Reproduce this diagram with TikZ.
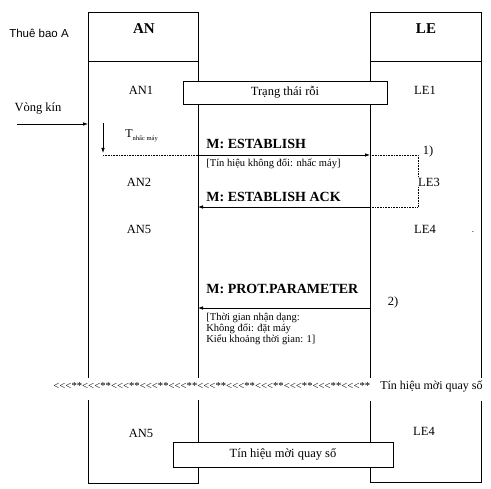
\documentclass[tikz,border=0pt]{standalone}
\usepackage{fontspec}
\setmainfont{Liberation Serif}
\newfontfamily\sansf{Liberation Sans}
\newfontfamily\rowfont{Liberation Serif}[Ligatures=TeXOff]
\usetikzlibrary{arrows.meta}
\begin{document}
\begin{tikzpicture}[x=1pt,y=-1pt, line width=0.8pt,
  lbl/.style={font=\fontsize{12.5}{14}\selectfont, inner sep=0},
  hdr/.style={font=\fontsize{15}{17}\selectfont\bfseries, inner sep=0},
  msg/.style={font=\fontsize{14}{16}\selectfont\bfseries, anchor=west, inner sep=0},
  note/.style={font=\fontsize{10.5}{11}\selectfont, anchor=north west, align=left, inner sep=0},
  statebox/.style={draw, fill=white, inner sep=0, font=\fontsize{12.5}{14}\selectfont},
  arr/.style={-{Latex[length=5pt,width=3.6pt]}},
  dotl/.style={densely dotted, line width=0.6pt}]
\useasboundingbox (0,0) rectangle (491,489);

% lifelines AN
\draw (88,12) rectangle (198,61);
\draw (88,61) -- (88,378);
\draw (198,61) -- (198,378);
\draw (88,400) -- (88,483) -- (198,483) -- (198,400);
% lifelines LE
\draw (370,12) rectangle (481,61);
\draw (370,61) -- (370,378);
\draw (481,61) -- (481,378);
\draw (370,401) -- (370,482) -- (481,482) -- (481,401);

\node[hdr] (an) at (144,29) {AN};
\node[hdr] (le) at (426,29) {LE};
\node[inner sep=0, font=\sansf\fontsize{11.5}{13}\selectfont] (tbA) at (39,33) {Thuê bao A};

% state labels
\node[lbl] (an1) at (141,90) {AN1};
\node[lbl] (le1) at (425,90) {LE1};
\node[lbl] (an2) at (139,182) {AN2};
\node[lbl] (an5) at (139,229) {AN5};
\node[lbl] (le4) at (425,229) {LE4};
\node[lbl] (an5b) at (141,433) {AN5};
\node[lbl] (le4b) at (424,431) {LE4};
\node[inner sep=0, font=\fontsize{9}{10}\selectfont] (dotmark) at (473,232) {.};

% idle state box
\node[statebox, minimum width=204pt, minimum height=23pt] (idle) at (285,92.5) {Trạng thái rỗi};

% Vong kin
\node[inner sep=0, font=\fontsize{12.5}{14}\selectfont] (vk) at (38,109) {Vòng kín};
\coordinate (vk0) at (17,124);
\coordinate (vk1) at (88,124);
\draw[arr] (vk0) -- (vk1);

% T nhac may
\coordinate (t0) at (103,123);
\coordinate (t1) at (103,153);
\draw[arr] (t0) -- (t1);
\node[inner sep=0, anchor=west, font=\fontsize{12}{13}\selectfont] (tl) at (125,136) {T\raisebox{-2.5pt}{\fontsize{6.5}{7}\selectfont nhấc máy}};
\coordinate (td) at (103,155);

% ESTABLISH
\coordinate (anE) at (198,155);
\coordinate (leE) at (370,155);
\draw[dotl] (td) -- (anE);
\draw[arr] (anE) -- (leE);
\node[msg] (mE) at (206,144) {M: ESTABLISH};
\node[note] (nE) at (206,158) {[Tín hiệu không đổi: nhấc máy]};
\node[lbl] (one) at (428,151) {1)};

% ESTABLISH ACK
\coordinate (leA) at (370,207);
\coordinate (anA) at (198,207);
\coordinate (c1) at (418,155);
\coordinate (c2) at (418,207);
\draw[dotl] (leE) -- (c1) -- (c2) -- (leA);
\draw[arr] (leA) -- (anA);
\node[msg] (mA) at (206,197) {M: ESTABLISH ACK};
\node[lbl, fill=white, inner sep=1pt] (le3) at (429,182) {LE3};

% PROT.PARAMETER
\coordinate (leP) at (370,308);
\coordinate (anP) at (198,308);
\draw[arr] (leP) -- (anP);
\node[msg] (mP) at (206,289) {M: PROT.PARAMETER};
\node[note] (nP) at (206,313) {[Thời gian nhận dạng:\\Không đổi: đặt máy\\Kiểu khoảng thời gian: 1]};
\node[lbl] (two) at (393,302) {2)};

% dial tone row
\node[inner sep=0, anchor=west] (row) at (53,386) {\rowfont\fontsize{10.7}{12}\selectfont <<<**<<<**<<<**<<<**<<<**<<<**<<<**<<<**<<<**<<<**<<<**};
\node[inner sep=0, anchor=east, font=\fontsize{12}{13}\selectfont] (rowtxt) at (483,386) {Tín hiệu mời quay số};

% dial tone box
\node[statebox, minimum width=220pt, minimum height=25pt] (dial) at (283,454.5) {Tín hiệu mời quay số};
\end{tikzpicture}
\end{document}
